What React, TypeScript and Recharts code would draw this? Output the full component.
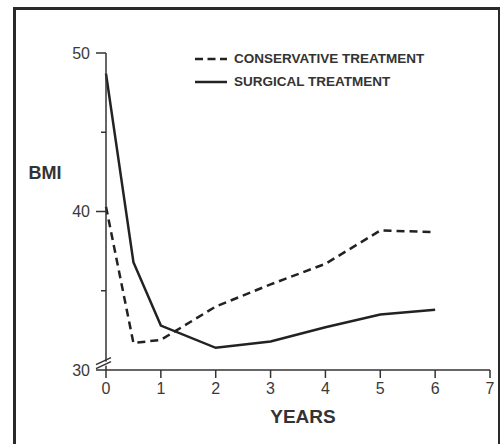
import React from "react";
import {
  LineChart,
  Line,
  XAxis,
  YAxis,
  Legend,
  ReferenceDot,
  Label,
} from "recharts";

// years after start
const years = [0, 0.5, 1, 2, 3, 4, 5, 6];
const conservative = [40.3, 31.7, 31.9, 34.0, 35.4, 36.7, 38.8, 38.7];
const surgical = [48.7, 36.8, 32.8, 31.4, 31.8, 32.7, 33.5, 33.8];

const xTicks = [0, 1, 2, 3, 4, 5, 6, 7];
const yTicks = [30, 35, 40, 45, 50];
const yLabelled = [30, 40, 50];

const seriesNames = ["CONSERVATIVE TREATMENT", "SURGICAL TREATMENT"];

const data = years.map((y, i) => ({
  year: y,
  conservative: conservative[i],
  surgical: surgical[i],
}));

const FONT = '"Liberation Sans", Arial, Helvetica, sans-serif';
const INK = "#222";

function YTick(props: any) {
  const { x, y, payload } = props;
  const major = yLabelled.includes(payload.value);
  // x is the text anchor: axis - tickSize(10) - tickMargin(6)
  const axisX = x + 16;
  return (
    <g>
      <line
        x1={major ? axisX - 10 : axisX - 5}
        x2={axisX}
        y1={y}
        y2={y}
        stroke="#333"
        strokeWidth={1.5}
      />
      {major && (
        <text
          x={x}
          y={y}
          dy="0.36em"
          textAnchor="end"
          fontSize={16}
          fontFamily={FONT}
          fill="#3a3a3a"
        >
          {payload.value}
        </text>
      )}
    </g>
  );
}

function AxisBreak(props: any) {
  const { cx, cy } = props;
  return (
    <g>
      <rect x={cx - 3} y={cy - 2} width={6} height={4} fill="#fff" />
      <line x1={cx - 10} y1={cy + 1} x2={cx + 5} y2={cy - 6} stroke="#333" strokeWidth={1.5} />
      <line x1={cx - 10} y1={cy + 5} x2={cx + 5} y2={cy - 2} stroke="#333" strokeWidth={1.5} />
    </g>
  );
}

function renderLegend() {
  return (
    <div style={{ fontFamily: FONT, fontSize: 13.5, fontWeight: "bold", color: "#333" }}>
      {seriesNames.map((name, i) => (
        <div key={name} style={{ display: "flex", alignItems: "center", height: 23 }}>
          <svg width={40} height={6}>
            <line
              x1={1}
              x2={33}
              y1={3}
              y2={3}
              stroke={INK}
              strokeWidth={2.5}
              strokeDasharray={i === 0 ? "8 4.5" : undefined}
            />
          </svg>
          <span>{name}</span>
        </div>
      ))}
    </div>
  );
}

export default function App() {
  return (
    <div
      style={{
        position: "absolute",
        left: 0,
        top: 0,
        width: 500,
        height: 444,
        background: "#fff",
        overflow: "hidden",
      }}
    >
      <div
        style={{
          position: "absolute",
          left: 13,
          top: 7,
          width: 482,
          height: 460,
          border: "3px solid #2a2a2a",
          borderRightWidth: 2,
        }}
      />
      <div style={{ position: "absolute", left: 0, top: 0 }}>
        <LineChart
          width={500}
          height={444}
          data={data}
          margin={{ top: 53, right: 10, bottom: 0, left: 0 }}
        >
          <XAxis
            dataKey="year"
            type="number"
            domain={[0, 7]}
            ticks={xTicks}
            interval={0}
            height={74}
            tickSize={8}
            tickMargin={5}
            stroke="#333"
            strokeWidth={1.5}
            tick={{ fontSize: 16, fontFamily: FONT, fill: "#3a3a3a" }}
          >
            <Label
              content={() => (
                <text
                  x={303}
                  y={423}
                  textAnchor="middle"
                  fontSize={19}
                  fontWeight="bold"
                  fontFamily={FONT}
                  fill="#333"
                >
                  YEARS
                </text>
              )}
            />
          </XAxis>
          <YAxis
            type="number"
            domain={[30, 50]}
            ticks={yTicks}
            interval={0}
            width={106}
            tickSize={10}
            tickMargin={6}
            tickLine={false}
            axisLine={{ stroke: "#333", strokeWidth: 1.5 }}
            tick={<YTick />}
          >
            <Label
              content={() => (
                <text
                  x={45}
                  y={179}
                  textAnchor="middle"
                  fontSize={18}
                  fontWeight="bold"
                  fontFamily={FONT}
                  fill="#333"
                >
                  BMI
                </text>
              )}
            />
          </YAxis>
          <Legend
            layout="horizontal"
            verticalAlign="middle"
            align="center"
            wrapperStyle={{ top: 47, left: 194, width: "auto" }}
            content={renderLegend}
          />
          <Line
            dataKey="conservative"
            stroke={INK}
            strokeWidth={2.5}
            strokeDasharray="8 5"
            dot={false}
            activeDot={false}
            isAnimationActive={false}
          />
          <Line
            dataKey="surgical"
            stroke={INK}
            strokeWidth={2.5}
            dot={false}
            activeDot={false}
            isAnimationActive={false}
          />
          <ReferenceDot x={0} y={30.4} r={0} shape={<AxisBreak />} />
        </LineChart>
      </div>
    </div>
  );
}
